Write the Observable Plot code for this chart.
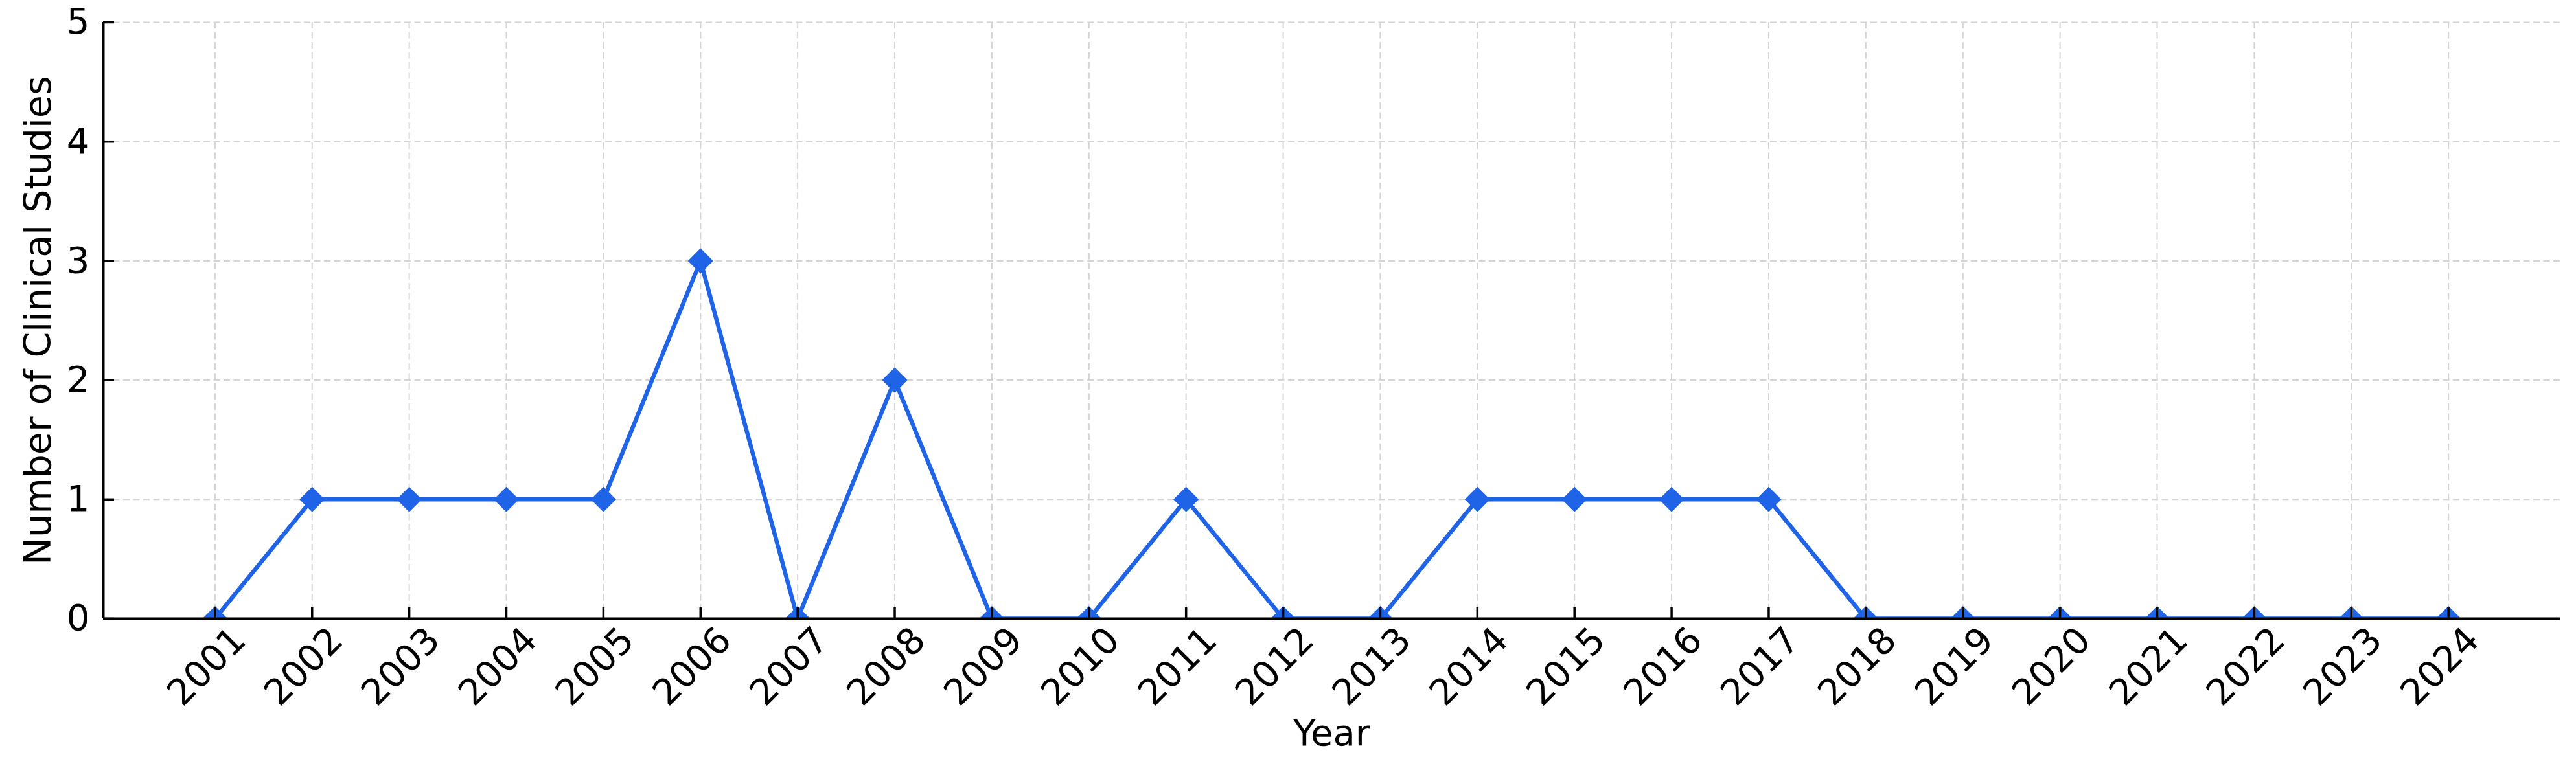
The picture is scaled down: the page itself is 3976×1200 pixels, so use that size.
<!DOCTYPE html>
<html>
<head>
<meta charset="utf-8">
<script src="https://cdn.jsdelivr.net/npm/d3@7"></script>
<script src="https://cdn.jsdelivr.net/npm/@observablehq/plot@0.6"></script>
<style>
  html, body { margin: 0; padding: 0; background: #fff; }
  #chart svg { display: block; }
</style>
</head>
<body>
<div id="chart"></div>
<script>
// Data
const years = [2001, 2002, 2003, 2004, 2005, 2006, 2007, 2008, 2009, 2010, 2011, 2012,
               2013, 2014, 2015, 2016, 2017, 2018, 2019, 2020, 2021, 2022, 2023, 2024];
const studies = [0, 1, 1, 1, 1, 3, 0, 2, 0, 0, 1, 0,
                 0, 1, 1, 1, 1, 0, 0, 0, 0, 0, 0, 0];
const yTicks = [0, 1, 2, 3, 4, 5];
const xLabel = "Year";
const yLabel = "Number of Clinical Studies";

const data = years.map((year, i) => ({year, count: studies[i]}));

const W = 3976, H = 1200;
const mL = 159, mR = 25, mT = 34, mB = 245;
const frameW = W - mL - mR, frameH = H - mT - mB;
const pad = (years[years.length - 1] - years[0]) * 0.05;
const blue = "#1f63e6";
const grid = "#d4d4d4";
const fs = 56;

const chart = Plot.plot({
  width: W,
  height: H,
  marginLeft: mL,
  marginRight: mR,
  marginTop: mT,
  marginBottom: mB,
  style: {fontFamily: "DejaVu Sans", background: "#fff", color: "#000"},
  x: {type: "linear", domain: [years[0] - pad, years[years.length - 1] + pad], axis: null},
  y: {domain: [0, 5], axis: null},
  marks: [
    // grid
    Plot.ruleY(yTicks, {y: d => d, stroke: grid, strokeWidth: 2, strokeDasharray: "10,5.5"}),
    Plot.ruleX(years, {x: d => d, stroke: grid, strokeWidth: 2, strokeDasharray: "10,5.5"}),
    // series
    Plot.line(data, {x: "year", y: "count", stroke: blue, strokeWidth: 6.5, clip: true}),
    Plot.dot(data, {x: "year", y: "count", symbol: "diamond2", r: 17.6, fill: blue, stroke: "none", clip: true}),
    // spines
    Plot.ruleX([years[0] - pad], {stroke: "#000", strokeWidth: 4}),
    Plot.ruleY([0], {stroke: "#000", strokeWidth: 4}),
    // inward ticks
    Plot.tickX(years, {x: d => d, stroke: "#000", strokeWidth: 3.5, insetTop: frameH - 17}),
    Plot.tickY(yTicks, {y: d => d, stroke: "#000", strokeWidth: 3.5, insetRight: frameW - 17}),
    // tick labels
    Plot.text(yTicks, {y: d => d, text: d => String(d), frameAnchor: "left", dx: -21,
      textAnchor: "end", fontSize: fs, fill: "#000"}),
    Plot.text(years, {x: d => d, text: d => String(d), frameAnchor: "bottom", dy: 87,
      rotate: -45, textAnchor: "middle", fontSize: fs, fill: "#000"}),
    // axis titles
    Plot.text([xLabel], {frameAnchor: "bottom", dy: 195, textAnchor: "middle",
      fontSize: fs, fill: "#000"}),
    Plot.text([yLabel], {frameAnchor: "left", dx: -100, rotate: -90, textAnchor: "middle",
      fontSize: 57, fill: "#000"})
  ]
});
document.getElementById("chart").append(chart);
</script>
</body>
</html>
